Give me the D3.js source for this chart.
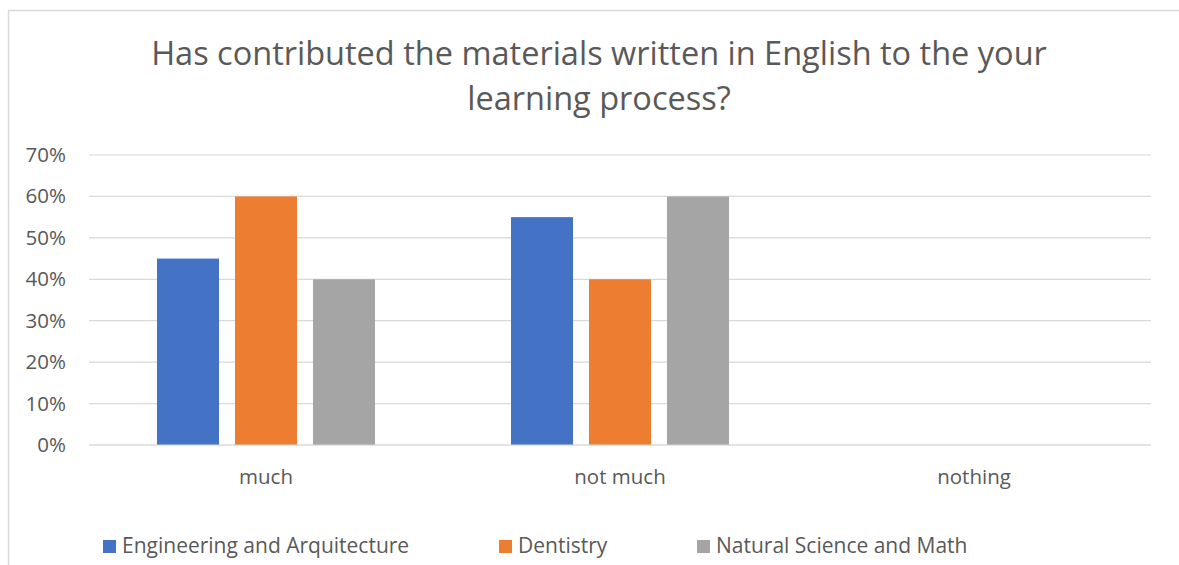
<!DOCTYPE html>
<html>
<head>
<meta charset="utf-8">
<script src="https://cdn.jsdelivr.net/npm/d3@7"></script>
<style>
  body { margin: 0; background: #fff; }
  svg { font-family: "Open Sans", sans-serif; }
</style>
</head>
<body>
<div id="chart"></div>
<script>
  // chart values
  var titleLines = ["Has contributed the materials written in English to the your", "learning process?"];
  var categories = ["much", "not much", "nothing"];
  var seriesNames = ["Engineering and Arquitecture", "Dentistry", "Natural Science and Math"];
  var seriesColors = ["#4472c4", "#ed7d31", "#a5a5a5"];
  var engineering = [0.45, 0.55, 0];
  var dentistry = [0.60, 0.40, 0];
  var science = [0.40, 0.60, 0];
  var yTicks = [0, 0.1, 0.2, 0.3, 0.4, 0.5, 0.6, 0.7];

  var values = [engineering, dentistry, science];

  var width = 1179, height = 565;
  var plot = {left: 89, right: 1151, top: 155, bottom: 445};

  var svg = d3.select("#chart").append("svg")
      .attr("width", width)
      .attr("height", height);

  // outer frame (right and bottom edges fall outside the picture)
  svg.append("rect")
      .attr("x", 8.5).attr("y", 10.5)
      .attr("width", 1200).attr("height", 600)
      .attr("fill", "#fff")
      .attr("stroke", "#d9d9d9")
      .attr("stroke-width", 1.5);

  var title = svg.append("text")
      .attr("text-anchor", "middle")
      .attr("fill", "#595959")
      .style("font-size", "32.5px");
  title.selectAll("tspan").data(titleLines).enter().append("tspan")
      .attr("x", 599)
      .attr("y", function(d, i) { return 65 + i * 45; })
      .text(function(d) { return d; });

  var x0 = d3.scaleBand()
      .domain(categories)
      .range([plot.left, plot.right])
      .padding(0);

  var x1 = d3.scaleBand()
      .domain(seriesNames)
      .range([0, x0.bandwidth()])
      .paddingInner(0.205)
      .paddingOuter(0.872);

  var y = d3.scaleLinear()
      .domain([0, 0.7])
      .range([plot.bottom, plot.top]);

  // gridlines
  svg.append("g").selectAll("line").data(yTicks).enter().append("line")
      .attr("x1", plot.left).attr("x2", plot.right)
      .attr("y1", function(d) { return y(d); })
      .attr("y2", function(d) { return y(d); })
      .attr("stroke", "#d9d9d9")
      .attr("stroke-width", 1.2);

  // y axis labels
  var yAxis = d3.axisLeft(y)
      .tickValues(yTicks)
      .tickFormat(d3.format(".0%"))
      .tickSize(0)
      .tickPadding(23);
  var yg = svg.append("g")
      .attr("transform", "translate(" + plot.left + ",0)")
      .call(yAxis);
  yg.select(".domain").remove();
  yg.selectAll("text")
      .attr("fill", "#595959")
      .style("font-size", "20.5px")
      .style("font-family", "'Open Sans', sans-serif");

  // bars
  var groups = svg.append("g").selectAll("g").data(categories).enter().append("g")
      .attr("transform", function(d) { return "translate(" + x0(d) + ",0)"; });

  groups.selectAll("rect")
      .data(function(d, ci) {
        return seriesNames.map(function(s, si) { return {series: s, value: values[si][ci], color: seriesColors[si]}; });
      })
      .enter().append("rect")
      .attr("x", function(d) { return x1(d.series); })
      .attr("width", x1.bandwidth())
      .attr("y", function(d) { return y(d.value); })
      .attr("height", function(d) { return y(0) - y(d.value); })
      .attr("fill", function(d) { return d.color; });

  // x axis line on top of bars
  svg.append("line")
      .attr("x1", plot.left).attr("x2", plot.right)
      .attr("y1", y(0)).attr("y2", y(0))
      .attr("stroke", "#d9d9d9")
      .attr("stroke-width", 1.2);

  // category labels
  var xAxis = d3.axisBottom(x0).tickSize(0).tickPadding(24);
  var xg = svg.append("g")
      .attr("transform", "translate(0," + plot.bottom + ")")
      .call(xAxis);
  xg.select(".domain").remove();
  xg.selectAll("text")
      .attr("fill", "#595959")
      .style("font-size", "20.5px")
      .style("font-family", "'Open Sans', sans-serif");

  // legend
  var legendX = [103, 499, 697];
  var legend = svg.append("g").selectAll("g").data(seriesNames).enter().append("g")
      .attr("transform", function(d, i) { return "translate(" + legendX[i] + ",540)"; });
  legend.append("rect")
      .attr("width", 13).attr("height", 13)
      .attr("fill", function(d, i) { return seriesColors[i]; });
  legend.append("text")
      .attr("x", 19).attr("y", 13)
      .attr("fill", "#595959")
      .style("font-size", "21px")
      .text(function(d) { return d; });
</script>
</body>
</html>
